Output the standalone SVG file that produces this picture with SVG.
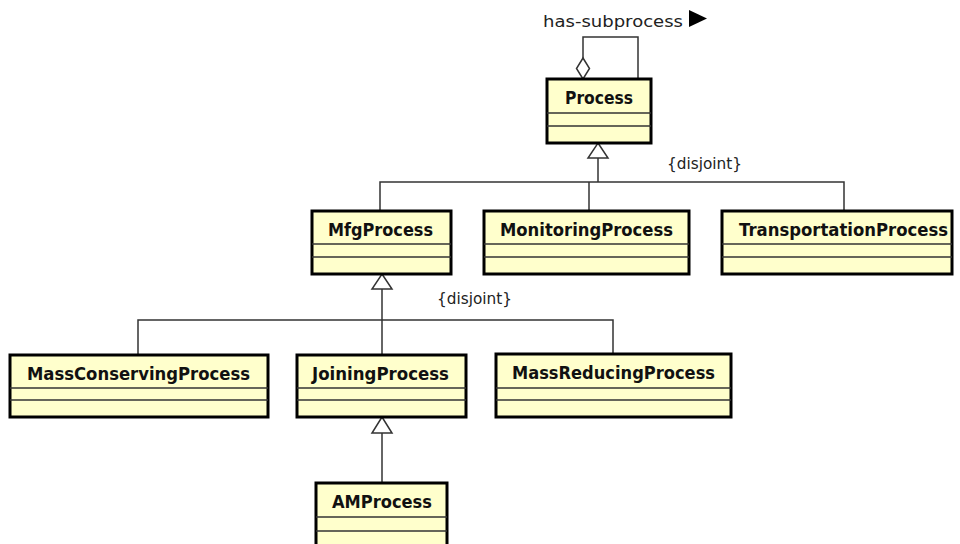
<svg xmlns="http://www.w3.org/2000/svg" width="960" height="544" viewBox="0 0 960 544">
  <defs>
    <style>
      .box { fill: #FFFFCC; stroke: #000; stroke-width: 3; }
      .sep { stroke: #333; stroke-width: 1.5; }
      .name { font-family: "DejaVu Sans", "Liberation Sans", sans-serif; font-weight: bold; font-size: 17px; fill: #111; text-anchor: middle; }
      .wire { fill: none; stroke: #333; stroke-width: 1.5; }
      .gen { fill: #fff; stroke: #333; stroke-width: 1.5; }
      .note { font-family: "DejaVu Sans", "Liberation Sans", sans-serif; font-size: 15px; fill: #222; }
    </style>
  </defs>
  <rect width="960" height="544" fill="#fff"/>

  <!-- connectors -->
  <g id="connectors">
    <!-- self aggregation on Process -->
    <polyline class="wire" points="583,58 583,37 638,37 638,79"/>
    <polygon points="583,58 589.5,68.5 583,79 576.5,68.5" fill="#fff" stroke="#333" stroke-width="1.5"/>
    <text class="note" x="543" y="27" font-size="17" textLength="140" lengthAdjust="spacingAndGlyphs">has-subprocess</text>
    <polygon points="689,10 707,18.5 689,27" fill="#000"/>

    <!-- Process generalization set -->
    <polyline class="wire" points="380,211 380,182 844,182 844,211"/>
    <line class="wire" x1="589" y1="182" x2="589" y2="211"/>
    <line class="wire" x1="598" y1="158" x2="598" y2="182" stroke-width="2"/>
    <polygon class="gen" points="598,143 608,158 588,158"/>
    <text class="note" x="667" y="169" textLength="75" lengthAdjust="spacingAndGlyphs">{disjoint}</text>

    <!-- MfgProcess generalization set -->
    <polyline class="wire" points="138,355 138,320 613,320 613,354"/>
    <line class="wire" x1="382" y1="289" x2="382" y2="355" stroke-width="2"/>
    <polygon class="gen" points="382,274 392,289 372,289"/>
    <text class="note" x="437" y="304" textLength="75" lengthAdjust="spacingAndGlyphs">{disjoint}</text>

    <!-- JoiningProcess generalization -->
    <line class="wire" x1="382" y1="433" x2="382" y2="483"/>
    <polygon class="gen" points="382,417 392,433 372,433"/>
  </g>

  <g id="Process">
    <rect class="box" x="547" y="79" width="104" height="64"/>
    <line class="sep" x1="547" y1="113" x2="651" y2="113"/>
    <line class="sep" x1="547" y1="126" x2="651" y2="126"/>
    <text class="name" x="599" y="104" textLength="68" lengthAdjust="spacingAndGlyphs">Process</text>
  </g>

  <g id="MfgProcess">
    <rect class="box" x="312" y="211" width="139" height="63"/>
    <line class="sep" x1="312" y1="244" x2="451" y2="244"/>
    <line class="sep" x1="312" y1="257" x2="451" y2="257"/>
    <text class="name" x="380.5" y="236" textLength="105" lengthAdjust="spacingAndGlyphs">MfgProcess</text>
  </g>

  <g id="MonitoringProcess">
    <rect class="box" x="484" y="211" width="205" height="63"/>
    <line class="sep" x1="484" y1="244" x2="689" y2="244"/>
    <line class="sep" x1="484" y1="257" x2="689" y2="257"/>
    <text class="name" x="586.5" y="236" textLength="173" lengthAdjust="spacingAndGlyphs">MonitoringProcess</text>
  </g>

  <g id="TransportationProcess">
    <rect class="box" x="722" y="211" width="230" height="63"/>
    <line class="sep" x1="722" y1="244" x2="952" y2="244"/>
    <line class="sep" x1="722" y1="257" x2="952" y2="257"/>
    <text class="name" x="843.5" y="236" textLength="209" lengthAdjust="spacingAndGlyphs">TransportationProcess</text>
  </g>

  <g id="MassConservingProcess">
    <rect class="box" x="10" y="355" width="258" height="62"/>
    <line class="sep" x1="10" y1="388" x2="268" y2="388"/>
    <line class="sep" x1="10" y1="400" x2="268" y2="400"/>
    <text class="name" x="138.5" y="380" textLength="223" lengthAdjust="spacingAndGlyphs">MassConservingProcess</text>
  </g>

  <g id="JoiningProcess">
    <rect class="box" x="297" y="355" width="169" height="62"/>
    <line class="sep" x1="297" y1="388" x2="466" y2="388"/>
    <line class="sep" x1="297" y1="400" x2="466" y2="400"/>
    <text class="name" x="380.5" y="380" textLength="137" lengthAdjust="spacingAndGlyphs">JoiningProcess</text>
  </g>

  <g id="MassReducingProcess">
    <rect class="box" x="496" y="354" width="235" height="63"/>
    <line class="sep" x1="496" y1="388" x2="731" y2="388"/>
    <line class="sep" x1="496" y1="400" x2="731" y2="400"/>
    <text class="name" x="613.5" y="379" textLength="203" lengthAdjust="spacingAndGlyphs">MassReducingProcess</text>
  </g>

  <g id="AMProcess">
    <rect class="box" x="316" y="483" width="131" height="63"/>
    <line class="sep" x1="316" y1="517" x2="447" y2="517"/>
    <line class="sep" x1="316" y1="531" x2="447" y2="531"/>
    <text class="name" x="382" y="508" textLength="100" lengthAdjust="spacingAndGlyphs">AMProcess</text>
  </g>
</svg>
